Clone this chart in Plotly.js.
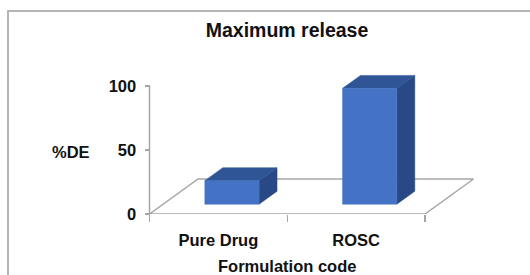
<!DOCTYPE html>
<html>
<head>
<meta charset="utf-8">
<script src="https://cdn.plot.ly/plotly-3.0.1.min.js"></script>
<style>
  html, body { margin: 0; padding: 0; background: #ffffff; }
  #chart { position: absolute; left: 0; top: 0; width: 530px; height: 275px; }
  #frame { position: absolute; left: 7px; top: 10px; width: 600px; height: 400px;
           border-left: 2px solid #b4b4b4; border-top: 2px solid #b4b4b4; pointer-events: none; }
</style>
</head>
<body>
<div id="chart"></div>
<div id="frame"></div>
<script>
// ---- data ----
const categories = ["Pure Drug", "ROSC"];
const values = [18.4, 90.5];          // %DE
const yTickVals = [0, 50, 100];
const titleText = "Maximum release";
const xTitleText = "Formulation code";
const yTitleText = "%DE";

// ---- 3D look (fractions of axis units) ----
const sxPx = 137.75, syPx = 1.28;            // px per unit (layout geometry)
const depth = [48.5 / sxPx, 35 / syPx];      // floor depth vector
const frontFrac = 0.28, depthFrac = 0.37, barW = 0.394;
const frontCol = "#4472C4", topCol = "#2F5597", sideCol = "#284985", gridCol = "#a6a6a6";

const nCat = categories.length;
const traces = [];

// floor outline
traces.push({
  type: "scatter", mode: "lines", hoverinfo: "skip", showlegend: false,
  x: [0, nCat, nCat + depth[0], depth[0], 0],
  y: [0, 0, depth[1], depth[1], 0],
  line: { color: gridCol, width: 1.5 }
});
// value axis line
traces.push({
  type: "scatter", mode: "lines", hoverinfo: "skip", showlegend: false,
  x: [0, 0], y: [0, yTickVals[yTickVals.length - 1]],
  line: { color: gridCol, width: 1.5 }
});

const fx = depth[0] * frontFrac, fy = depth[1] * frontFrac;
const dx = depth[0] * depthFrac, dy = depth[1] * depthFrac;
function face(xs, ys, col) {
  traces.push({ type: "scatter", mode: "lines", fill: "toself", fillcolor: col,
    line: { color: col, width: 0.5 }, hoverinfo: "skip", showlegend: false, x: xs, y: ys });
}
categories.forEach((c, i) => {
  const v = values[i];
  const cx = i + 0.5 + fx;
  const l = cx - barW / 2, r = cx + barW / 2, b = fy, t = fy + v;
  face([r, r + dx, r + dx, r, r], [b, b + dy, t + dy, t, b], sideCol);
  face([l, r, r + dx, l + dx, l], [t, t, t + dy, t + dy, t], topCol);
  face([l, r, r, l, l], [b, b, t, t, b], frontCol);
});

// invisible trace for the tick-mark axis
traces.push({ type: "scatter", mode: "markers", x: [0], y: [0], xaxis: "x2",
  marker: { opacity: 0 }, hoverinfo: "skip", showlegend: false });

const L = 100, R = 474, T = 60, B = 61;
const W = 530, H = 275;
const xr = [-(149.5 - L) / sxPx, (R - 149.5) / sxPx];
const yr = [0, (H - T - B) / syPx];
const font = { family: "Liberation Sans, Arial, sans-serif", size: 16.5, color: "#111111", weight: "bold" };

const layout = {
  width: W, height: H,
  margin: { l: L, r: W - R, t: T, b: B, pad: 0 },
  paper_bgcolor: "rgba(0,0,0,0)", plot_bgcolor: "rgba(0,0,0,0)",
  showlegend: false,
  font: font,
  title: { text: titleText, font: { family: font.family, size: 19.5, color: "#111111", weight: "bold" },
           x: 0.5, xref: "paper", xanchor: "center", y: 1 - 30 / H, yref: "container", yanchor: "middle" },
  xaxis: {
    range: xr, showgrid: false, zeroline: false, showline: false, ticks: "",
    tickvals: categories.map((c, i) => i + 0.5), ticktext: categories,
    tickfont: font, ticklabelstandoff: 14, fixedrange: true
  },
  xaxis2: {
    overlaying: "x", anchor: "y", side: "bottom", range: xr,
    showgrid: false, zeroline: false, showline: false,
    tickvals: categories.map((c, i) => i).concat([nCat]),
    ticks: "outside", ticklen: 7, tickcolor: gridCol, tickwidth: 1.5,
    showticklabels: false, fixedrange: true
  },
  yaxis: {
    range: yr, anchor: "free", position: (149.5 - L) / (R - L),
    showgrid: false, zeroline: false, showline: false,
    tickvals: yTickVals, ticks: "outside", ticklen: 5, tickcolor: gridCol, tickwidth: 1.5,
    tickfont: font, ticklabelstandoff: 5, fixedrange: true
  },
  annotations: [
    { text: yTitleText, xref: "paper", yref: "y", x: (71 - L) / (R - L), y: (214 - 151.7) / syPx,
      xanchor: "center", yanchor: "middle", showarrow: false, font: font },
    { text: xTitleText, xref: "paper", yref: "paper", x: 0.5, y: (214 - 266) / (H - T - B),
      xanchor: "center", yanchor: "middle", showarrow: false, font: font }
  ]
};

Plotly.newPlot("chart", traces, layout, { displayModeBar: false, staticPlot: true });
</script>
</body>
</html>
